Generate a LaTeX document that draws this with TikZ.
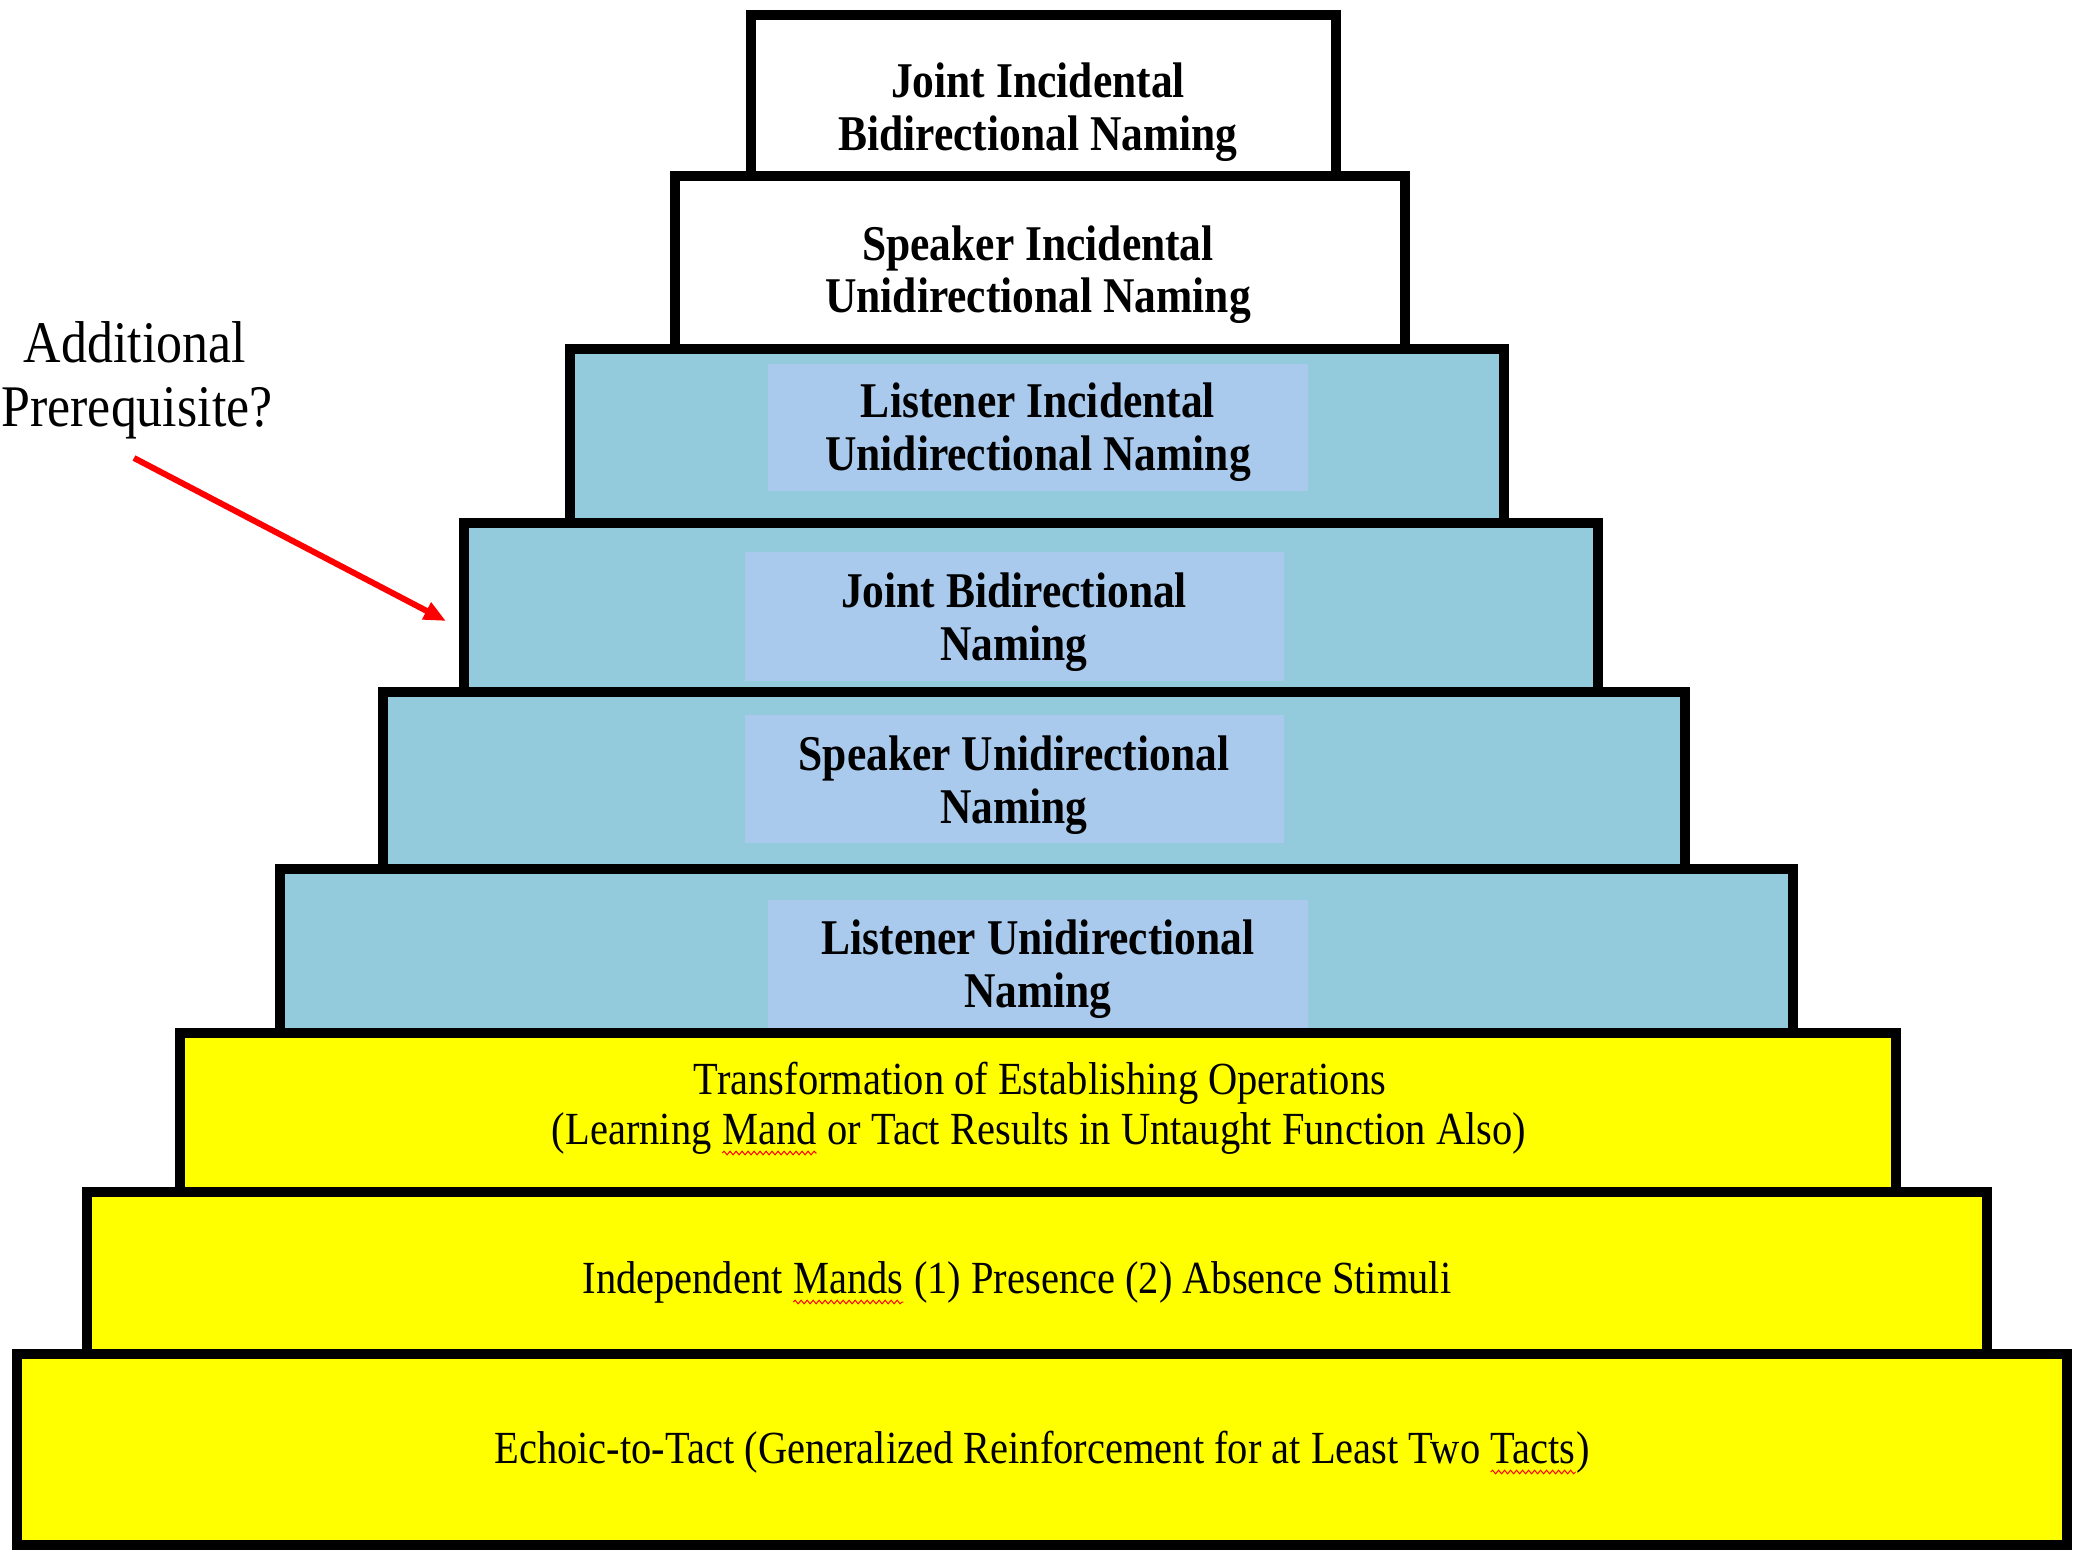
\documentclass[tikz,border=0pt]{standalone}
\usepackage{fontspec}
\usetikzlibrary{arrows.meta,decorations.pathmorphing}
\newfontfamily\tnr[FakeStretch=0.87]{Liberation Serif}
\newfontfamily\tnrwide[FakeStretch=0.88]{Liberation Serif}
\definecolor{stepblue}{RGB}{147,203,221}
\definecolor{labelblue}{RGB}{169,202,236}
\definecolor{stepyellow}{RGB}{255,255,0}
\newcommand\redwave[1]{\tikz[baseline=(w.base)]{\node[inner sep=0pt,outer sep=0pt,anchor=base] (w) {#1};\draw[red,line width=0.5pt,decorate,decoration={snake,amplitude=0.9pt,segment length=3pt}] ([yshift=-4.5pt]w.base west) -- ([yshift=-4.5pt]w.base east);}}
\tikzset{
  stepbox/.style={draw=black, line width=5pt, line join=miter},
  whitebox/.style={stepbox, fill=white},
  bluebox/.style={stepbox, fill=stepblue},
  yellowbox/.style={stepbox, fill=stepyellow},
  labelbg/.style={fill=labelblue},
  boldlbl/.style={font={\tnr\bfseries\fontsize{25pt}{30pt}\selectfont}, anchor=base, inner sep=0pt},
  plainlbl/.style={font={\tnrwide\fontsize{23pt}{27pt}\selectfont}, anchor=base, inner sep=0pt},
  notelbl/.style={font={\tnrwide\fontsize{29.5pt}{34pt}\selectfont}, anchor=base, inner sep=0pt},
  redarrow/.style={draw=red, line width=3pt, -{Triangle[length=11pt,width=9pt]}}
}
\begin{document}
\begin{tikzpicture}[x=0.5pt,y=-0.5pt]
\useasboundingbox (0,0) rectangle (2076,1553);
\fill[white] (0,0) rectangle (2076,1553);
% steps
\path[whitebox] (751,15) rectangle (1336,176);
\path[whitebox] (675,176) rectangle (1405,349);
\path[bluebox] (570,349) rectangle (1504,523);
\path[bluebox] (464,523) rectangle (1598,692);
\path[bluebox] (383,692) rectangle (1685,869);
\path[bluebox] (280,869) rectangle (1793,1033);
\path[yellowbox] (180,1033) rectangle (1896,1192);
\path[yellowbox] (87,1192) rectangle (1987,1354);
\path[yellowbox] (17,1354) rectangle (2067,1545);
% label backgrounds
\path[labelbg] (768,364) rectangle (1308,491);
\path[labelbg] (745,552) rectangle (1284,681);
\path[labelbg] (745,715) rectangle (1284,843);
\path[labelbg] (768,900) rectangle (1308,1028);
% bold labels
\node[boldlbl] (l1a) at (1038,97) {Joint Incidental};
\node[boldlbl] (l1b) at (1038,150) {Bidirectional Naming};
\node[boldlbl] (l2a) at (1038,260) {Speaker Incidental};
\node[boldlbl] (l2b) at (1038,312) {Unidirectional Naming};
\node[boldlbl] (l3a) at (1038,417) {Listener Incidental};
\node[boldlbl] (l3b) at (1038,470) {Unidirectional Naming};
\node[boldlbl] (l4a) at (1014,607) {Joint Bidirectional};
\node[boldlbl] (l4b) at (1014,660) {Naming};
\node[boldlbl] (l5a) at (1014,770) {Speaker Unidirectional};
\node[boldlbl] (l5b) at (1014,823) {Naming};
\node[boldlbl] (l6a) at (1038,954) {Listener Unidirectional};
\node[boldlbl] (l6b) at (1038,1007) {Naming};
% plain labels
\node[plainlbl] (l7a) at (1040,1094) {Transformation of Establishing Operations};
\node[plainlbl] (l7b) at (1039,1144) {(Learning \redwave{Mand} or Tact Results in Untaught Function Also)};
\node[plainlbl] (l8) at (1017,1293) {Independent \redwave{Mands} (1) Presence (2) Absence Stimuli};
\node[plainlbl] (l9) at (1042,1463) {Echoic-to-Tact (Generalized Reinforcement for at Least Two \redwave{Tacts})};
% note and arrow
\node[notelbl] (n1) at (135,362) {Additional};
\node[notelbl] (n2) at (137,426) {Prerequisite?};
\coordinate (arrS) at (134,458);
\coordinate (arrE) at (446,621);
\draw[redarrow] (arrS) -- (arrE);
\end{tikzpicture}
\end{document}
